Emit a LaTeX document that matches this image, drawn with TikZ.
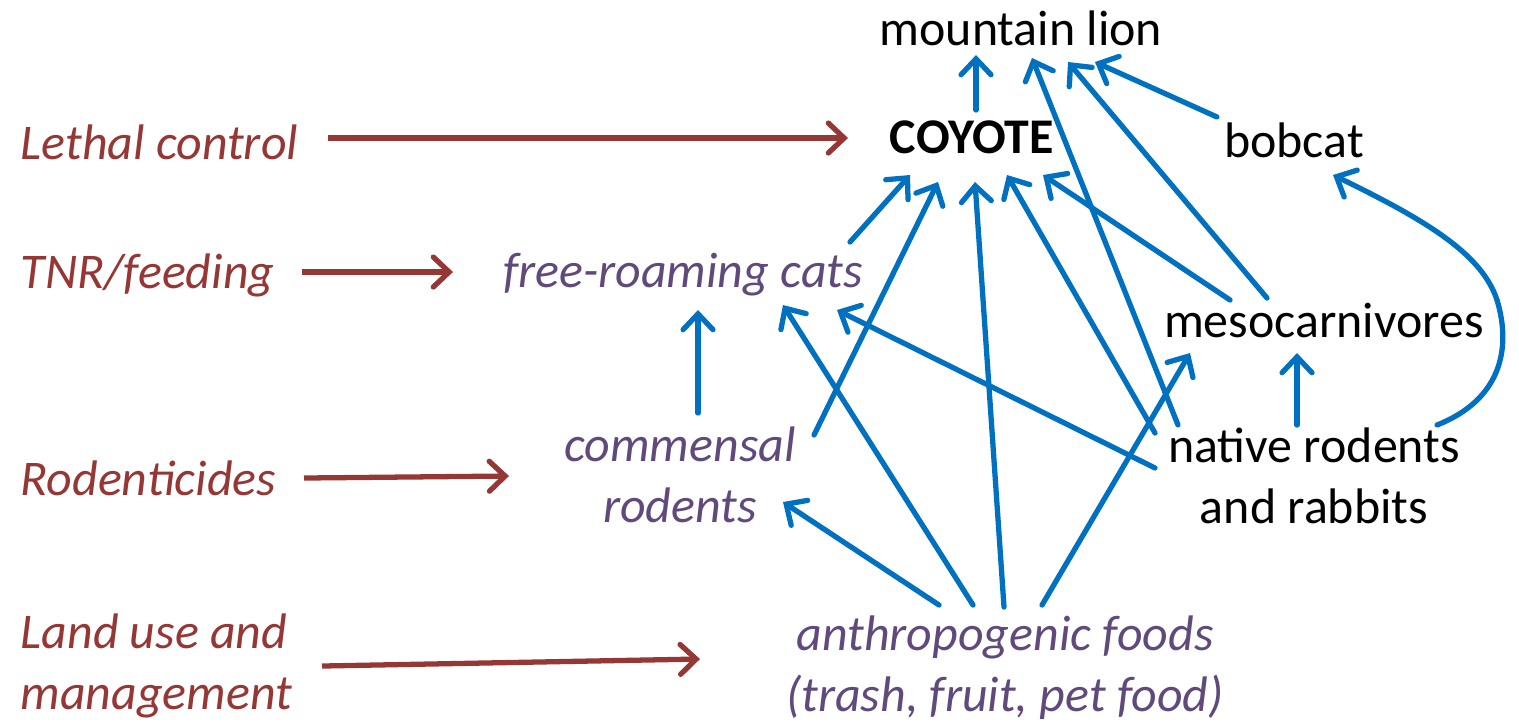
\documentclass[tikz,border=0pt]{standalone}
\usepackage{fontspec}
\setmainfont{Carlito}
\usetikzlibrary{arrows.meta}
\definecolor{ared}{HTML}{953735}
\definecolor{apurple}{HTML}{604A7B}
\definecolor{ablue}{HTML}{0070C0}
\begin{document}
\begin{tikzpicture}[x=0.01cm,y=-0.01cm,
  every node/.style={inner sep=0pt, font=\fontsize{14.2}{17.4}\selectfont, align=center},
  sp/.style={text=black},
  hum/.style={text=apurple, font=\fontsize{14.2}{17.4}\selectfont\itshape},
  act/.style={text=ared, anchor=west, align=left, font=\fontsize{14.2}{17.4}\selectfont\itshape},
  arr/.style={draw=ablue, line width=1.5pt, line cap=round, -{Straight Barb[length=4.5pt,width=8.5pt,line cap=round]}},
  rarr/.style={draw=ared, line width=1.5pt, -{Straight Barb[length=4.5pt,width=8.5pt,line cap=round]}}]
\useasboundingbox (0,0) rectangle (1519,723);
% species nodes
\node[sp] (ml) at (1021,28) {mountain lion};
\node[sp, font=\fontsize{14.2}{17.4}\selectfont\bfseries] (coy) at (972,137) {COYOTE};
\node[sp] (bob) at (1294,140) {bobcat};
\node[hum] (cats) at (683,275) {free-roaming cats};
\node[sp] (meso) at (1324,320) {mesocarnivores};
\node[sp] (nr) at (1314,476) {native rodents\\and rabbits};
\node[hum] (cr) at (680,475) {commensal\\rodents};
\node[hum] (af) at (1005,668) {anthropogenic foods\\(trash, fruit, pet food)};
% actions
\node[act] (lc) at (20,142) {Lethal control};
\node[act] (tnr) at (20,275) {TNR/feeding};
\node[act] (rod) at (20,478) {Rodenticides};
\node[act] (land) at (20,666) {Land use and\\management};
% red arrows
\draw[rarr] ([shift={(308,-4)}]lc.west) -- ([shift={(-124,1)}]coy.center);
\draw[rarr] ([shift={(282,-3)}]tnr.west) -- ([shift={(-230,-3)}]cats.center);
\draw[rarr] ([shift={(284,0)}]rod.west) -- ([shift={(-171,1)}]cr.center);
\draw[rarr] ([shift={(302,0)}]land.west) -- ([shift={(-305,-9)}]af.center);
% blue arrows
\draw[arr] ([shift={(4,-27)}]coy.center) -- ([shift={(-45,27)}]ml.center);
\draw[arr] ([shift={(-77,-23)}]bob.center) -- ([shift={(74,34)}]ml.center);
\draw[arr] ([shift={(-57,-22)}]meso.center) -- ([shift={(47,34)}]ml.center);
\draw[arr] ([shift={(-136,-51)}]nr.center) -- ([shift={(11,30)}]ml.center);
\draw[arr] ([shift={(167,-33)}]cats.center) -- ([shift={(-62,38)}]coy.center);
\draw[arr] ([shift={(134,-40)}]cr.center) -- ([shift={(-34,45)}]coy.center);
\draw[arr] ([shift={(-1,-61)}]af.center) -- ([shift={(3,45)}]coy.center);
\draw[arr] ([shift={(-159,-43)}]nr.center) -- ([shift={(35,38)}]coy.center);
\draw[arr] ([shift={(-94,-20)}]meso.center) -- ([shift={(71,38)}]coy.center);
\draw[arr] ([shift={(18,-62)}]cr.center) -- ([shift={(15,35)}]cats.center);
\draw[arr] ([shift={(-32,-63)}]af.center) -- ([shift={(100,30)}]cats.center);
\draw[arr] ([shift={(-159,-8)}]nr.center) -- ([shift={(154,35)}]cats.center);
\draw[arr] ([shift={(-66,-63)}]af.center) -- ([shift={(103,27)}]cr.center);
\draw[arr] ([shift={(37,-63)}]af.center) -- ([shift={(-134,33)}]meso.center);
\draw[arr] ([shift={(-17,-51)}]nr.center) -- ([shift={(-27,33)}]meso.center);
\draw[arr] ([shift={(123,-51)}]nr.center) .. controls (1500,400) and (1512,350) .. (1497,300)
   .. controls (1482,255) and (1430,222) .. ([shift={(39,35)}]bob.center);
\end{tikzpicture}
\end{document}
